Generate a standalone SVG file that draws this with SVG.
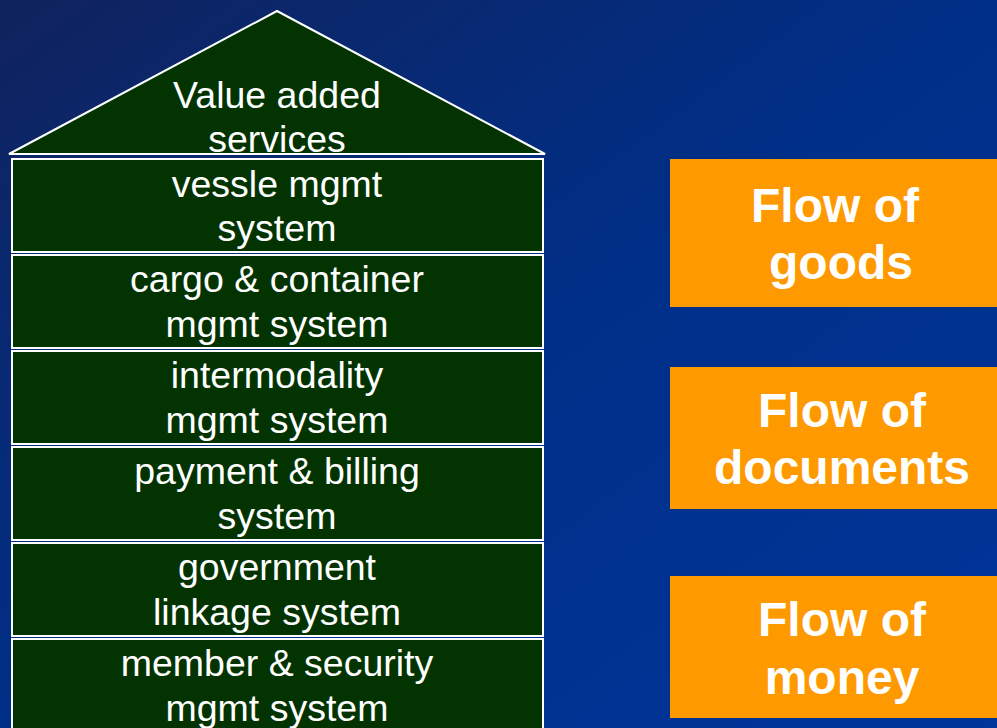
<svg xmlns="http://www.w3.org/2000/svg" width="997" height="728" viewBox="0 0 997 728">
<defs>
<linearGradient id="bg" x1="0" y1="0" x2="1" y2="1">
<stop offset="0" stop-color="#10235d"/>
<stop offset="0.5" stop-color="#002f88"/>
<stop offset="1" stop-color="#00359a"/>
</linearGradient>
<style>
.blk{fill:#033300;stroke:#ffffff;stroke-width:2}
.t{font-family:"Liberation Sans",Arial,sans-serif;font-size:37.5px;fill:#ffffff;text-anchor:middle}
.flow{fill:#ff9900}
.ft{font-family:"Liberation Sans",Arial,sans-serif;font-size:48px;font-weight:bold;fill:#ffffff;text-anchor:middle}
</style>
</defs>
<rect x="0" y="0" width="997" height="728" fill="url(#bg)"/>
<g id="roof">
<polygon class="blk" points="277,11 545,154 9,154"/>
<text class="t" x="277" y="108">Value added</text>
<text class="t" x="277" y="152">services</text>
</g>
<g id="vessel">
<rect class="blk" x="12" y="159" width="531" height="93"/>
<text class="t" x="277" y="197">vessle mgmt</text>
<text class="t" x="277" y="241">system</text>
</g>
<g id="cargo">
<rect class="blk" x="12" y="255" width="531" height="93"/>
<text class="t" x="277" y="292">cargo &amp; container</text>
<text class="t" x="277" y="337">mgmt system</text>
</g>
<g id="intermodality">
<rect class="blk" x="12" y="351" width="531" height="93"/>
<text class="t" x="277" y="388">intermodality</text>
<text class="t" x="277" y="433">mgmt system</text>
</g>
<g id="payment">
<rect class="blk" x="12" y="447" width="531" height="93"/>
<text class="t" x="277" y="484">payment &amp; billing</text>
<text class="t" x="277" y="529">system</text>
</g>
<g id="government">
<rect class="blk" x="12" y="543" width="531" height="93"/>
<text class="t" x="277" y="580">government</text>
<text class="t" x="277" y="625">linkage system</text>
</g>
<g id="member">
<rect class="blk" x="12" y="639" width="531" height="93"/>
<text class="t" x="277" y="676">member &amp; security</text>
<text class="t" x="277" y="721">mgmt system</text>
</g>
<g id="goods">
<rect class="flow" x="670" y="159" width="330" height="148"/>
<text class="ft" x="835" y="222">Flow of</text>
<text class="ft" x="841" y="279">goods</text>
</g>
<g id="documents">
<rect class="flow" x="670" y="367" width="330" height="142"/>
<text class="ft" x="842" y="427">Flow of</text>
<text class="ft" x="842" y="484">documents</text>
</g>
<g id="money">
<rect class="flow" x="670" y="576" width="330" height="142"/>
<text class="ft" x="842" y="636">Flow of</text>
<text class="ft" x="842" y="694">money</text>
</g>
<g id="connectors"/>
</svg>
